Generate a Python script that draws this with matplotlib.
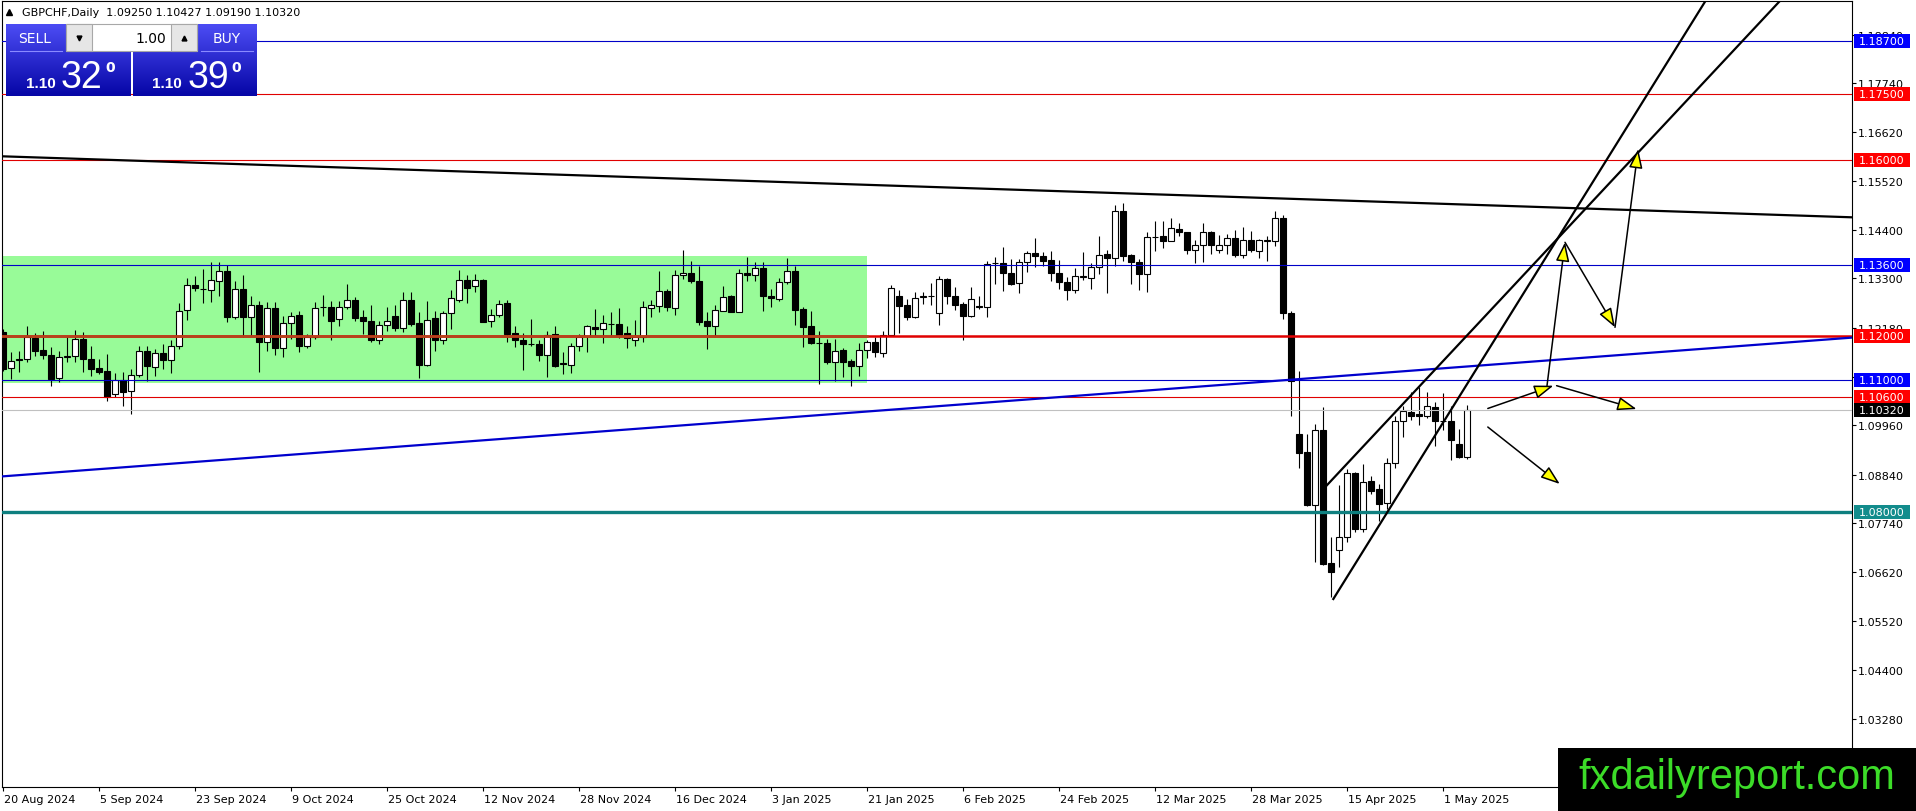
import numpy as np
import matplotlib
matplotlib.use("Agg")
import matplotlib.pyplot as plt
from matplotlib.patches import Rectangle
from matplotlib.colors import LinearSegmentedColormap
from matplotlib.transforms import ScaledTranslation

W, H = 1916, 812
plt.rcParams['font.family'] = ['DejaVu Sans']

title = "GBPCHF,Daily  1.09250 1.10427 1.09190 1.10320"

# daily GBPCHF bars, 20 Aug 2024 .. 6 May 2025
opens = [
    1.1208, 1.1126, 1.1146, 1.1146, 1.1195, 1.1167, 1.1156, 1.1103, 1.1151, 1.1153, 1.1192, 1.1147,
    1.1127, 1.1119, 1.1067, 1.1100, 1.1074, 1.1111, 1.1164, 1.1129, 1.1160, 1.1144, 1.1176, 1.1258,
    1.1315, 1.1306, 1.1304, 1.1325, 1.1346, 1.1243, 1.1306, 1.1242, 1.1270, 1.1186, 1.1263, 1.1172,
    1.1228, 1.1247, 1.1177, 1.1198, 1.1264, 1.1264, 1.1238, 1.1264, 1.1282, 1.1242, 1.1233, 1.1190,
    1.1225, 1.1244, 1.1218, 1.1280, 1.1228, 1.1134, 1.1239, 1.1191, 1.1251, 1.1282, 1.1326, 1.1312,
    1.1326, 1.1233, 1.1248, 1.1274, 1.1205, 1.1190, 1.1181, 1.1181, 1.1157, 1.1203, 1.1137, 1.1134,
    1.1176, 1.1200, 1.1219, 1.1214, 1.1226, 1.1226, 1.1205, 1.1189, 1.1198, 1.1262, 1.1268, 1.1301,
    1.1262, 1.1338, 1.1342, 1.1324, 1.1233, 1.1221, 1.1257, 1.1289, 1.1254, 1.1342, 1.1338, 1.1353,
    1.1289, 1.1283, 1.1321, 1.1346, 1.1261, 1.1221, 1.1184, 1.1183, 1.1139, 1.1167, 1.1142, 1.1132,
    1.1168, 1.1185, 1.1160, 1.1202, 1.1289, 1.1270, 1.1243, 1.1288, 1.1289, 1.1251, 1.1329, 1.1291,
    1.1272, 1.1245, 1.1267, 1.1266, 1.1364, 1.1364, 1.1342, 1.1319, 1.1367, 1.1387, 1.1380, 1.1372,
    1.1342, 1.1321, 1.1304, 1.1334, 1.1332, 1.1357, 1.1385, 1.1376, 1.1482, 1.1383, 1.1368, 1.1339,
    1.1424, 1.1426, 1.1416, 1.1442, 1.1435, 1.1395, 1.1407, 1.1435, 1.1395, 1.1407, 1.1421, 1.1384,
    1.1417, 1.1392, 1.1416, 1.1415, 1.1468, 1.1251, 1.0977, 1.0935, 1.0816, 1.0986, 1.0683, 1.0712,
    1.0742, 1.0888, 1.0761, 1.0869, 1.0852, 1.0819, 1.0910, 1.1005, 1.1026, 1.1022, 1.1017, 1.1039,
    1.1007, 1.1007, 1.0954, 1.0925,
]
highs = [
    1.1215, 1.1162, 1.1166, 1.1223, 1.1206, 1.1211, 1.1174, 1.1166, 1.1198, 1.1213, 1.1208, 1.1177,
    1.1147, 1.1158, 1.1115, 1.1118, 1.1124, 1.1176, 1.1176, 1.1170, 1.1181, 1.1189, 1.1274, 1.1332,
    1.1336, 1.1351, 1.1367, 1.1367, 1.1361, 1.1325, 1.1338, 1.1291, 1.1279, 1.1277, 1.1277, 1.1244,
    1.1253, 1.1257, 1.1204, 1.1276, 1.1292, 1.1279, 1.1279, 1.1317, 1.1287, 1.1258, 1.1270, 1.1233,
    1.1264, 1.1270, 1.1298, 1.1298, 1.1253, 1.1279, 1.1257, 1.1257, 1.1304, 1.1349, 1.1338, 1.1340,
    1.1329, 1.1261, 1.1281, 1.1282, 1.1221, 1.1206, 1.1238, 1.1189, 1.1211, 1.1221, 1.1162, 1.1183,
    1.1204, 1.1224, 1.1261, 1.1247, 1.1253, 1.1262, 1.1221, 1.1236, 1.1279, 1.1282, 1.1347, 1.1306,
    1.1350, 1.1394, 1.1370, 1.1358, 1.1253, 1.1270, 1.1312, 1.1292, 1.1351, 1.1378, 1.1367, 1.1367,
    1.1306, 1.1330, 1.1376, 1.1359, 1.1264, 1.1257, 1.1211, 1.1192, 1.1192, 1.1171, 1.1147, 1.1183,
    1.1189, 1.1196, 1.1211, 1.1314, 1.1304, 1.1283, 1.1298, 1.1298, 1.1319, 1.1335, 1.1332, 1.1311,
    1.1276, 1.1311, 1.1289, 1.1370, 1.1378, 1.1401, 1.1373, 1.1374, 1.1393, 1.1421, 1.1391, 1.1393,
    1.1372, 1.1334, 1.1353, 1.1389, 1.1365, 1.1427, 1.1395, 1.1497, 1.1501, 1.1386, 1.1374, 1.1436,
    1.1461, 1.1461, 1.1467, 1.1455, 1.1436, 1.1418, 1.1457, 1.1438, 1.1429, 1.1430, 1.1439, 1.1446,
    1.1438, 1.1420, 1.1427, 1.1482, 1.1473, 1.1257, 1.1120, 1.0977, 1.1000, 1.1039, 1.0743, 1.0861,
    1.0897, 1.0890, 1.0909, 1.0882, 1.0863, 1.0922, 1.1017, 1.1040, 1.1073, 1.1083, 1.1071, 1.1049,
    1.1069, 1.1041, 1.0988, 1.1043,
]
lows = [
    1.1120, 1.1102, 1.1118, 1.1141, 1.1153, 1.1146, 1.1086, 1.1094, 1.1141, 1.1139, 1.1117, 1.1109,
    1.1113, 1.1052, 1.1060, 1.1041, 1.1021, 1.1105, 1.1096, 1.1109, 1.1124, 1.1115, 1.1170, 1.1236,
    1.1302, 1.1274, 1.1276, 1.1291, 1.1230, 1.1238, 1.1198, 1.1200, 1.1118, 1.1164, 1.1155, 1.1151,
    1.1192, 1.1162, 1.1173, 1.1192, 1.1244, 1.1189, 1.1223, 1.1261, 1.1234, 1.1204, 1.1186, 1.1181,
    1.1211, 1.1211, 1.1208, 1.1223, 1.1103, 1.1132, 1.1166, 1.1181, 1.1215, 1.1276, 1.1274, 1.1298,
    1.1230, 1.1220, 1.1242, 1.1186, 1.1174, 1.1123, 1.1177, 1.1143, 1.1105, 1.1128, 1.1113, 1.1115,
    1.1164, 1.1162, 1.1200, 1.1183, 1.1200, 1.1194, 1.1173, 1.1176, 1.1185, 1.1242, 1.1254, 1.1257,
    1.1247, 1.1329, 1.1320, 1.1224, 1.1170, 1.1200, 1.1255, 1.1253, 1.1253, 1.1325, 1.1325, 1.1257,
    1.1264, 1.1279, 1.1317, 1.1225, 1.1174, 1.1181, 1.1089, 1.1136, 1.1096, 1.1105, 1.1085, 1.1109,
    1.1150, 1.1151, 1.1151, 1.1200, 1.1206, 1.1236, 1.1239, 1.1272, 1.1270, 1.1224, 1.1272, 1.1259,
    1.1189, 1.1243, 1.1261, 1.1243, 1.1317, 1.1302, 1.1314, 1.1297, 1.1344, 1.1355, 1.1359, 1.1323,
    1.1306, 1.1282, 1.1297, 1.1327, 1.1307, 1.1340, 1.1296, 1.1359, 1.1370, 1.1317, 1.1304, 1.1298,
    1.1393, 1.1398, 1.1414, 1.1426, 1.1385, 1.1364, 1.1367, 1.1386, 1.1388, 1.1386, 1.1379, 1.1376,
    1.1391, 1.1376, 1.1370, 1.1404, 1.1238, 1.1018, 1.0899, 1.0812, 1.0685, 1.0678, 1.0607, 1.0674,
    1.0731, 1.0755, 1.0753, 1.0840, 1.0780, 1.0806, 1.0899, 1.0969, 1.1009, 1.0997, 1.1012, 1.0949,
    1.0986, 1.0918, 1.0923, 1.0919,
]
closes = [
    1.1124, 1.1143, 1.1145, 1.1198, 1.1166, 1.1155, 1.1102, 1.1151, 1.1153, 1.1192, 1.1146, 1.1124,
    1.1118, 1.1061, 1.1099, 1.1073, 1.1111, 1.1164, 1.1130, 1.1160, 1.1144, 1.1176, 1.1255, 1.1316,
    1.1308, 1.1307, 1.1326, 1.1346, 1.1243, 1.1305, 1.1242, 1.1270, 1.1186, 1.1263, 1.1171, 1.1228,
    1.1245, 1.1177, 1.1198, 1.1263, 1.1265, 1.1234, 1.1264, 1.1282, 1.1240, 1.1233, 1.1189, 1.1225,
    1.1233, 1.1217, 1.1280, 1.1227, 1.1133, 1.1236, 1.1191, 1.1251, 1.1285, 1.1326, 1.1309, 1.1326,
    1.1232, 1.1247, 1.1271, 1.1203, 1.1189, 1.1181, 1.1180, 1.1157, 1.1202, 1.1132, 1.1136, 1.1176,
    1.1198, 1.1221, 1.1214, 1.1228, 1.1227, 1.1202, 1.1194, 1.1198, 1.1264, 1.1270, 1.1301, 1.1266,
    1.1338, 1.1342, 1.1323, 1.1232, 1.1221, 1.1258, 1.1287, 1.1254, 1.1342, 1.1338, 1.1353, 1.1289,
    1.1286, 1.1321, 1.1346, 1.1259, 1.1220, 1.1183, 1.1183, 1.1139, 1.1166, 1.1141, 1.1132, 1.1168,
    1.1185, 1.1162, 1.1202, 1.1308, 1.1268, 1.1243, 1.1285, 1.1289, 1.1290, 1.1329, 1.1291, 1.1270,
    1.1245, 1.1283, 1.1266, 1.1362, 1.1365, 1.1342, 1.1317, 1.1367, 1.1387, 1.1380, 1.1370, 1.1342,
    1.1321, 1.1304, 1.1335, 1.1335, 1.1357, 1.1384, 1.1377, 1.1482, 1.1382, 1.1368, 1.1339, 1.1423,
    1.1423, 1.1416, 1.1444, 1.1435, 1.1395, 1.1407, 1.1435, 1.1406, 1.1407, 1.1421, 1.1384, 1.1417,
    1.1395, 1.1417, 1.1417, 1.1468, 1.1251, 1.1096, 1.0933, 1.0816, 1.0986, 1.0681, 1.0664, 1.0742,
    1.0888, 1.0761, 1.0867, 1.0848, 1.0818, 1.0911, 1.1005, 1.1028, 1.1017, 1.1017, 1.1041, 1.1005,
    1.1006, 1.0964, 1.0925, 1.1032,
]

# one date label every 12 bars
date_labels = ["20 Aug 2024", "5 Sep 2024", "23 Sep 2024", "9 Oct 2024", "25 Oct 2024",
               "12 Nov 2024", "28 Nov 2024", "16 Dec 2024", "3 Jan 2025", "21 Jan 2025",
               "6 Feb 2025", "24 Feb 2025", "12 Mar 2025", "28 Mar 2025", "15 Apr 2025",
               "1 May 2025"]
price_ticks = [1.18840, 1.17740, 1.16620, 1.15520, 1.14400, 1.13300, 1.12180, 1.11060,
               1.09960, 1.08840, 1.07740, 1.06620, 1.05520, 1.04400, 1.03280]

# horizontal levels drawn on the chart
levels = [1.18700, 1.17500, 1.16000, 1.13600, 1.12000, 1.11000, 1.10600, 1.10320, 1.08000]
level_colors = ['#0000c8', '#e00000', '#e00000', '#0000c8', '#e00000', '#0000c8', '#e00000', '#c0c0c0', '#0e7f7f']
level_widths = [0.8, 0.8, 0.8, 0.8, 1.8, 0.8, 0.8, 0.8, 2.4]
tag_colors = ['#0000ff', '#ff0000', '#ff0000', '#0000ff', '#ff0000', '#0000ff', '#ff0000', '#000000', '#128c8c']

# consolidation box (bar index from/to, price low/high)
box_bars = (-3, 108)
box_prices = (1.1092, 1.1382)

# trend lines as (bar index, price) pairs
desc_line = [(-0.125, 1.16074), (231.125, 1.14688)]
blue_line = [(-0.125, 1.08802), (231.125, 1.11955)]
wedge_upper = [(165.25, 1.08555), (222.34, 1.19647)]
wedge_lower = [(166.29, 1.06017), (212.96, 1.19647)]

# projection arrows: start -> end
arrows = [
    ((185.6, 1.10345), (193.8, 1.10863)),
    ((193.0, 1.10863), (195.25, 1.14120)),
    ((194.2, 1.10863), (204.2, 1.10333)),
    ((195.25, 1.14120), (201.5, 1.12189)),
    ((201.5, 1.12189), (204.4, 1.16240)),
    ((185.6, 1.09924), (194.6, 1.08630)),
]

fig = plt.figure(figsize=(W / 100, H / 100), dpi=100)
ax = fig.add_axes([2 / W, 24 / H, 1850 / W, 786 / H])
ax.set_xlim(-0.125, 231.125)
ax.set_ylim(1.017463, 1.196019)

# consolidation box
ax.add_patch(Rectangle((box_bars[0], box_prices[0]), box_bars[1] - box_bars[0],
                       box_prices[1] - box_prices[0], fc='#98fb98', ec='none', zorder=1))

# candles
o = np.array(opens); hi = np.array(highs); lo = np.array(lows); c = np.array(closes)
idx = np.arange(len(o))
ax.vlines(idx, lo, hi, color='black', lw=0.8, zorder=2)
body_cols = ['white' if cc >= oo else 'black' for oo, cc in zip(o, c)]
ax.bar(idx, np.maximum(np.abs(c - o), 0.00002), bottom=np.minimum(o, c), width=0.7,
       color=body_cols, edgecolor='black', linewidth=0.8, zorder=2.5)

# horizontal levels
for p, col, lw in zip(levels, level_colors, level_widths):
    ax.axhline(p, color=col, lw=lw, zorder=3)
# the red 1.12 level looks brownish where it crosses the green box
ax.plot([box_bars[0], box_bars[1]], [levels[4], levels[4]], color='#b4441c',
        lw=level_widths[4], zorder=3.1)

for line, col in [(desc_line, 'black'), (blue_line, '#0000cd'),
                  (wedge_upper, 'black'), (wedge_lower, 'black')]:
    (x0, y0), (x1, y1) = line
    ax.plot([x0, x1], [y0, y1], color=col, lw=1.6, zorder=3.5)

for (x0, y0), (x1, y1) in arrows:
    ax.annotate('', xy=(x1, y1), xytext=(x0, y0), zorder=4,
                arrowprops=dict(arrowstyle='-|>,head_length=0.9,head_width=0.32',
                                mutation_scale=13, fc='yellow', ec='black', lw=1.1,
                                shrinkA=0, shrinkB=0))

# axes / ticks
for sp in ax.spines.values():
    sp.set_linewidth(0.8)
ax.yaxis.tick_right()
ax.set_yticks(price_ticks)
ax.set_yticklabels([f"{v:.5f}" for v in price_ticks])
ax.tick_params(axis='y', length=3, width=0.8, pad=1.5, labelsize=8)
ax.set_xticks(list(range(0, 12 * len(date_labels), 12)))
ax.set_xticklabels(date_labels, ha='left')
ax.tick_params(axis='x', length=3, width=0.8, pad=2, labelsize=8)
shift = ScaledTranslation(1.5 / 100, 0, fig.dpi_scale_trans)
for lbl in ax.get_xticklabels():
    lbl.set_transform(lbl.get_transform() + shift)

# overlay in pixel coordinates for the terminal widgets
ov = fig.add_axes([0, 0, 1, 1])
ov.set_zorder(10)
ov.patch.set_visible(False)
ov.axis('off')


def to_px(p):
    return H - ax.transData.transform((0, p))[1]


# price tags on the right scale
for p, col in zip(levels, tag_colors):
    y = to_px(p)
    ov.add_patch(Rectangle((1854, y - 7), 56, 14, fc=col, ec='none', zorder=2))
    ov.text(1859, y, f"{p:.5f}", color='white', fontsize=8, va='center', ha='left', zorder=3)

# title row
ov.plot(9.5, 13, marker='^', ms=4.5, color='black')
ov.text(22, 13, title, fontsize=8, va='center', ha='left')

# one-click trading panel
panel_cmap = LinearSegmentedColormap.from_list('mt4', ['#4c4cf4', '#0606a6'])
grad = np.linspace(0, 1, 100).reshape(-1, 1)
for x0, x1 in [(6, 130.5), (133.5, 257)]:
    ov.imshow(grad, cmap=panel_cmap, extent=(x0, x1, 97, 25), aspect='auto', zorder=1)
ov.plot([10, 62], [52, 52], color='#8a8aff', lw=0.8, zorder=2)
ov.plot([201.5, 253], [52, 52], color='#8a8aff', lw=0.8, zorder=2)
ov.add_patch(Rectangle((66.5, 25), 131, 27, fc='white', ec='#a8a8a8', lw=0.8, zorder=3))
ov.add_patch(Rectangle((66.5, 25), 26, 27, fc='#e6e6e6', ec='#a8a8a8', lw=0.8, zorder=4))
ov.add_patch(Rectangle((171, 25), 26.5, 27, fc='#e6e6e6', ec='#a8a8a8', lw=0.8, zorder=4))
ov.plot(79.5, 38.5, marker='v', ms=3.5, color='black', zorder=5)
ov.plot(184.2, 38.5, marker='^', ms=3.5, color='black', zorder=5)
ov.text(35, 39, "SELL", color='white', fontsize=10, ha='center', va='center', zorder=5)
ov.text(227, 39, "BUY", color='white', fontsize=10, ha='center', va='center', zorder=5)
ov.text(166, 39, "1.00", color='black', fontsize=10, ha='right', va='center', zorder=5)
for x_small, x_big, x_sup, big in [(26, 61, 105, "32"), (152, 188, 231, "39")]:
    ov.text(x_small, 88.5, "1.10", color='white', fontsize=11, fontweight='bold',
            family='Liberation Sans', va='baseline', ha='left', zorder=5)
    ov.text(x_big, 88.5, big, color='white', fontsize=27, family='Liberation Sans',
            va='baseline', ha='left', zorder=5)
    ov.text(x_sup, 61, "0", color='white', fontsize=10, fontweight='bold',
            va='top', ha='left', zorder=5)

# watermark
ov.add_patch(Rectangle((1558, 749), W - 1558, H - 749, fc='black', ec='none', zorder=6))
ov.text(1737, 778, "fxdailyreport.com", color='#3cdc28', fontsize=30,
        family='Liberation Sans', ha='center', va='center', zorder=7)

ov.set_xlim(0, W)
ov.set_ylim(H, 0)

fig.savefig("out.png", dpi=100, facecolor='white')
